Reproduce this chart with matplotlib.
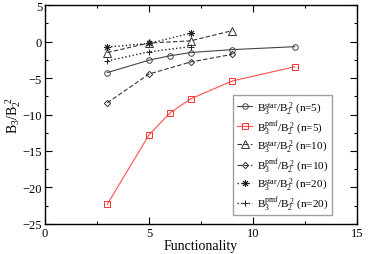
import matplotlib
matplotlib.use("Agg")
import matplotlib.pyplot as plt
from matplotlib.ticker import MultipleLocator

plt.rcParams['font.family'] = ['Liberation Serif', 'DejaVu Serif']
plt.rcParams['mathtext.fontset'] = 'custom'
plt.rcParams['mathtext.rm'] = 'Liberation Serif'
plt.rcParams['mathtext.it'] = 'Liberation Serif:italic'

x_star5 = [3, 5, 6, 7, 9, 12]
y_star5 = [-4.25, -2.55, -1.95, -1.5, -1.1, -0.7]
x_pmf5 = [3, 5, 6, 7, 9, 12]
y_pmf5 = [-22.3, -12.8, -9.8, -7.85, -5.4, -3.45]
x_star10 = [3, 5, 7, 9]
y_star10 = [-1.5, -0.2, 0.1, 1.5]
x_pmf10 = [3, 5, 7, 9]
y_pmf10 = [-8.4, -4.45, -2.8, -1.75]
x_star20 = [3, 5, 7]
y_star20 = [-0.75, -0.25, 1.15]
x_pmf20 = [3, 5, 7]
y_pmf20 = [-2.65, -1.4, -0.7]

labels = [
    r'B$_3^{\mathrm{star}}$/B$_2^{\ 2}$ (n=5)',
    r'B$_3^{\mathrm{pmf}}$/B$_2^{\ 2}$ (n=5)',
    r'B$_3^{\mathrm{star}}$/B$_2^{\ 2}$ (n=10)',
    r'B$_3^{\mathrm{pmf}}$/B$_2^{\ 2}$ (n=10)',
    r'B$_3^{\mathrm{star}}$/B$_2^{\ 2}$ (n=20)',
    r'B$_3^{\mathrm{pmf}}$/B$_2^{\ 2}$ (n=20)',
]

fig = plt.figure(figsize=(3.74, 2.55), dpi=100)
ax = fig.add_axes([0.120, 0.118, 0.835, 0.858])

lw = 0.8
ax.plot(x_star5, y_star5, '-', color='#444444', lw=lw, marker='o', ms=4, mfc='none', mec='#444444', mew=0.7, label=labels[0])
ax.plot(x_pmf5, y_pmf5, '-', color='#ff5050', lw=lw, marker='s', ms=3.8, mfc='none', mec='#ff3030', mew=0.7, label=labels[1])
ax.plot(x_star10, y_star10, '--', color='#333333', lw=lw, marker='^', ms=6, mfc='none', mec='#333333', mew=0.7, dashes=(4, 2), label=labels[2])
ax.plot(x_pmf10, y_pmf10, '--', color='#333333', lw=lw, marker='D', ms=3.2, mfc='none', mec='#333333', mew=0.7, dashes=(4, 2), label=labels[3])
ax.plot(x_star20, y_star20, ':', color='#222222', lw=lw + 0.2, marker=(8, 2, 0), ms=5, mec='#222222', mew=0.7, label=labels[4])
ax.plot(x_pmf20, y_pmf20, ':', color='#222222', lw=lw + 0.2, marker='+', ms=4, mec='#222222', mew=0.7, label=labels[5])

ax.set_xlim(0, 15)
ax.set_ylim(-25, 5)
ax.xaxis.set_major_locator(MultipleLocator(5))
ax.xaxis.set_minor_locator(MultipleLocator(2.5))
ax.yaxis.set_major_locator(MultipleLocator(5))
ax.yaxis.set_minor_locator(MultipleLocator(2.5))
ax.tick_params(which='both', direction='in', top=True, right=True, labelsize=9, width=0.8)
ax.tick_params(which='major', length=5, pad=2)
ax.tick_params(which='minor', length=2.5)
for s in ax.spines.values():
    s.set_linewidth(1.0)

ax.set_xlabel('Functionality', fontsize=10, labelpad=0)
ax.set_ylabel(r'B$_3$/B$_2^{\ 2}$', fontsize=10, labelpad=0)

leg = ax.legend(loc='lower right', bbox_to_anchor=(0.92, 0.04), fontsize=8, frameon=True,
                fancybox=False, edgecolor='#888888', handlelength=1.4, handletextpad=0.4,
                labelspacing=0.2, borderpad=0.35, borderaxespad=0)
leg.get_frame().set_linewidth(1.0)

fig.savefig('out.png', dpi=100)
